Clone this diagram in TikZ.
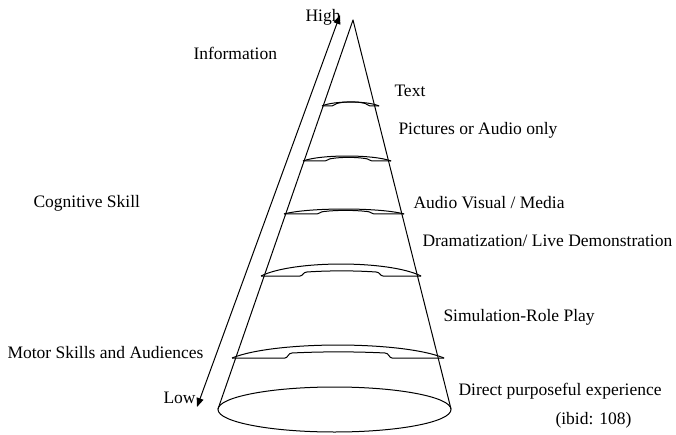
\documentclass[tikz,border=0pt]{standalone}
\usepackage{fontspec}
\setmainfont{Liberation Serif}
\usetikzlibrary{arrows.meta}
\newcommand{\myring}[7]{% xl xr y h a b r
  \pgfmathsetmacro{\rw}{#2-#1}
  \draw[ringline] (#1,#3) .. controls ({#1+0.2*\rw},{#3-1.33*#4}) and ({#2-0.2*\rw},{#3-1.33*#4}) .. (#2,#3);
  \draw[ringline] (#1,#3) -- (#5,#3) .. controls ({#5+3},#3) and ({#5+3},{#3-#7}) .. ({#5+7},{#3-#7})
     .. controls ({#5+0.35*(#6-#5)},{#3-#7-1.5}) and ({#6-0.35*(#6-#5)},{#3-#7-1.5}) .. ({#6-7},{#3-#7})
     .. controls ({#6-3},{#3-#7}) and ({#6-3},#3) .. (#6,#3) -- (#2,#3);
}
\tikzset{
  ringline/.style={line width=1pt, line join=round},
  lbl/.style={anchor=base west, inner sep=0pt, font=\fontsize{17.5}{20}\selectfont},
}
\begin{document}
\begin{tikzpicture}[x=1pt, y=-1pt, line width=1pt]
\useasboundingbox (0,0) rectangle (676,435);
% cone
\coordinate (apex) at (353,20);
\coordinate (bl) at (218,409);
\coordinate (br) at (451,409);
\draw[line join=round] (bl) -- (apex) -- (br);
\draw (334.5,409.5) ellipse [x radius=116.5pt, y radius=22.5pt];
% rings
\myring{322}{379}{106}{4}{332}{370}{3}
\myring{303}{391}{161}{5}{325}{372}{2.5}
\myring{284}{404}{214}{5}{317}{374}{2.5}
\myring{261}{421}{276}{12}{300}{383}{4}
\myring{232}{444}{358}{13}{285}{392}{5}
% arrow
\coordinate (lowtip) at (197,407);
\coordinate (hightip) at (340,15);
\draw[{Triangle[length=9pt,width=7pt]}-{Triangle[length=9pt,width=7pt]}] (lowtip) -- (hightip);
% labels
\node[lbl] (high) at (305,22) {High};
\node[lbl] (info) at (193,60) {Information};
\node[lbl] (text) at (394,97) {Text};
\node[lbl] (pic) at (398,135) {Pictures or Audio only};
\node[lbl] (av) at (413,209) {Audio Visual / Media};
\node[lbl] (dram) at (422,247) {Dramatization/ Live Demonstration};
\node[lbl] (sim) at (443,321) {Simulation-Role Play};
\node[lbl] (direct) at (458,395) {Direct purposeful experience};
\node[lbl] (ibid) at (555,424) {(ibid: 108)};
\node[lbl] (cog) at (33,208) {Cognitive Skill};
\node[lbl] (motor) at (7,358) {Motor Skills and Audiences};
\node[lbl] (low) at (163,403) {Low};
\end{tikzpicture}
\end{document}
